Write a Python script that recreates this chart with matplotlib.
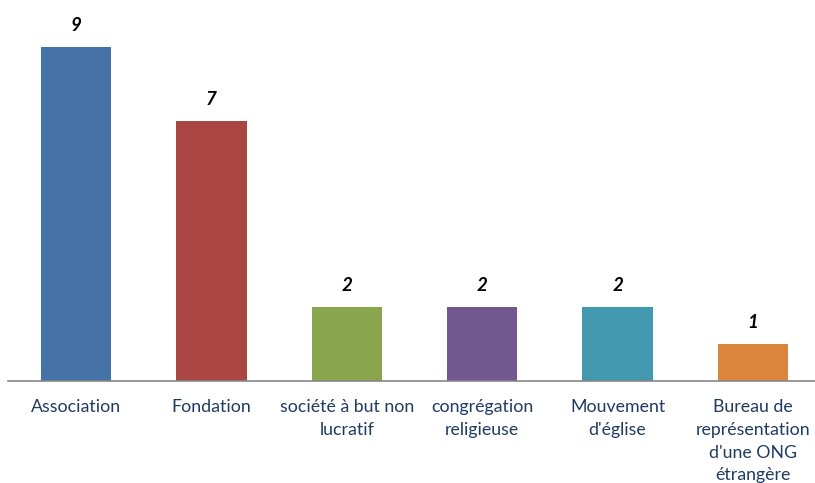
import matplotlib
matplotlib.use("Agg")
import matplotlib.pyplot as plt

categories = ["Association", "Fondation", "société à but non\nlucratif",
              "congrégation\nreligieuse", "Mouvement\nd'église",
              "Bureau de\nreprésentation\nd'une ONG\nétrangère"]
values = [9, 7, 2, 2, 2, 1]
colors = ["#4572A7", "#AA4643", "#89A54E", "#71588F", "#4198AF", "#DB843D"]

plt.rcParams['font.family'] = ['Lato', 'DejaVu Sans']

fig = plt.figure(figsize=(8.15, 4.83), dpi=100)
ax = fig.add_axes([8.3 / 815, 102 / 483, 812.4 / 815, 371 / 483])

x = range(len(values))
bars = ax.bar(x, values, width=0.52, color=colors)

for xi, v in zip(x, values):
    ax.annotate(str(v), (xi, v), xytext=(0, 9.5), textcoords="offset points",
                ha="center", va="bottom", fontsize=13.5, fontweight="bold",
                fontstyle="italic", color="black")

ax.set_xlim(-0.5, len(values) - 0.5)
ax.set_ylim(0, 10)
ax.set_yticks([])
ax.set_xticks(list(x))
ax.set_xticklabels(categories, fontsize=12.8, color="#1F3B64", linespacing=1.52,
                   va="top")
ax.tick_params(axis="x", length=0, pad=13)
for s in ["top", "right", "left"]:
    ax.spines[s].set_visible(False)
ax.spines["bottom"].set_color("#868686")
ax.spines["bottom"].set_linewidth(1.2)

fig.savefig("out.png", dpi=100)
